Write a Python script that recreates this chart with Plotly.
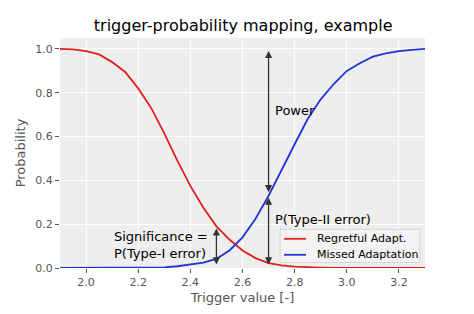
import plotly.graph_objects as go
import numpy as np

# ---- data ----
trigger_x = [1.90, 1.95, 2.00, 2.05, 2.10, 2.15, 2.20, 2.25, 2.30, 2.35, 2.40, 2.45,
             2.50, 2.55, 2.60, 2.65, 2.70, 2.75, 2.80, 2.85, 2.90, 2.95, 3.00, 3.05,
             3.10, 3.15, 3.20, 3.25, 3.30]
regretful = [1.000, 0.998, 0.990, 0.975, 0.940, 0.895, 0.820, 0.730, 0.615, 0.490, 0.375, 0.275,
             0.190, 0.130, 0.080, 0.045, 0.022, 0.012, 0.006, 0.003, 0.002, 0.001, 0.001, 0.000,
             0.000, 0.000, 0.000, 0.000, 0.000]
missed = [0.000, 0.000, 0.000, 0.000, 0.000, 0.000, 0.000, 0.001, 0.003, 0.008, 0.015, 0.025,
          0.042, 0.080, 0.140, 0.225, 0.330, 0.450, 0.565, 0.680, 0.770, 0.840, 0.900, 0.935,
          0.965, 0.980, 0.990, 0.996, 1.000]
series_names = ["Regretful Adapt.", "Missed Adaptation"]
series_colors = ["#e0201a", "#2233d8"]
significance_x = 2.50
power_x = 2.70
x_ticks = [2.0, 2.2, 2.4, 2.6, 2.8, 3.0, 3.2]
y_ticks = [0.0, 0.2, 0.4, 0.6, 0.8, 1.0]

def at(xs, ys, xv):
    return float(np.interp(xv, xs, ys))

sig_top = at(trigger_x, regretful, significance_x)
t2_top = at(trigger_x, missed, power_x)

FONT = "DejaVu Sans"
GRAY = "#555555"
ARROW = "#333333"

fig = go.Figure()
for ys, name, col in zip([regretful, missed], series_names, series_colors):
    fig.add_trace(go.Scatter(x=trigger_x, y=ys, mode="lines", name=name,
                             line=dict(color=col, width=1.8), showlegend=False))

def double_arrow(xv, y0, y1):
    fig.add_annotation(x=xv, y=y1, ax=xv, ay=y0, xref="x", yref="y", axref="x", ayref="y",
                       text="", showarrow=True, arrowside="end+start",
                       arrowhead=2, startarrowhead=2, arrowsize=1.1, startarrowsize=1.1,
                       arrowwidth=1.3, arrowcolor=ARROW, standoff=2, startstandoff=2)

double_arrow(significance_x, 0.0, sig_top)
double_arrow(power_x, 0.0, t2_top)
double_arrow(power_x, t2_top, 1.0)

fig.add_annotation(x=power_x + 0.018, y=0.72, text="Power", showarrow=False,
                   xanchor="left", yanchor="middle", font=dict(family=FONT, size=13, color="black"))
fig.add_annotation(x=power_x + 0.018, y=0.22, text="P(Type-II error)", showarrow=False,
                   xanchor="left", yanchor="middle", font=dict(family=FONT, size=13, color="black"))
fig.add_annotation(x=2.098, y=0.103, text="Significance =<br>P(Type-I error)", showarrow=False,
                   xanchor="left", yanchor="middle", align="left",
                   font=dict(family=FONT, size=13, color="black"))

# compact legend box (matplotlib-like)
fig.add_shape(type="rect", xref="paper", yref="paper", x0=0.603, x1=0.986, y0=0.024, y1=0.168,
              fillcolor="rgba(243,243,243,0.9)", line=dict(color="#d6d6d6", width=1), layer="above")
for i, (name, col) in enumerate(zip(series_names, series_colors)):
    yy = 0.127 - i * 0.0695
    fig.add_shape(type="line", xref="paper", yref="paper", x0=0.614, x1=0.674, y0=yy, y1=yy,
                  line=dict(color=col, width=1.8), layer="above")
    fig.add_annotation(xref="paper", yref="paper", x=0.699, y=yy, text=name, showarrow=False,
                       xanchor="left", yanchor="middle",
                       font=dict(family=FONT, size=11, color="black"))

fig.update_layout(
    width=474, height=314,
    margin=dict(l=60, r=49, t=38, b=41.5),
    paper_bgcolor="white", plot_bgcolor="#eeeeee",
    showlegend=False,
    title=dict(text="trigger-probability mapping, example", x=0.513, xanchor="center",
               y=1 - 25 / 314, yanchor="middle", font=dict(family=FONT, size=16, color="black")),
    font=dict(family=FONT, size=11, color=GRAY),
    xaxis=dict(range=[1.9, 3.3], tickvals=x_ticks, ticktext=[f"{v:.1f}" for v in x_ticks],
               showgrid=True, gridcolor="white", gridwidth=1.2, zeroline=False,
               ticks="outside", ticklen=4, tickcolor=GRAY, showline=False,
               title=dict(text="Trigger value [-]", font=dict(family=FONT, size=13, color=GRAY), standoff=4),
               tickfont=dict(family=FONT, size=11, color=GRAY)),
    yaxis=dict(range=[0, 1.05], tickvals=y_ticks, ticktext=[f"{v:.1f}" for v in y_ticks],
               showgrid=True, gridcolor="white", gridwidth=1.2, zeroline=False,
               ticks="outside", ticklen=4, tickcolor=GRAY, showline=False,
               title=dict(text="Probability", font=dict(family=FONT, size=13, color=GRAY), standoff=6),
               tickfont=dict(family=FONT, size=11, color=GRAY)),
)

fig.write_html("out.html")
